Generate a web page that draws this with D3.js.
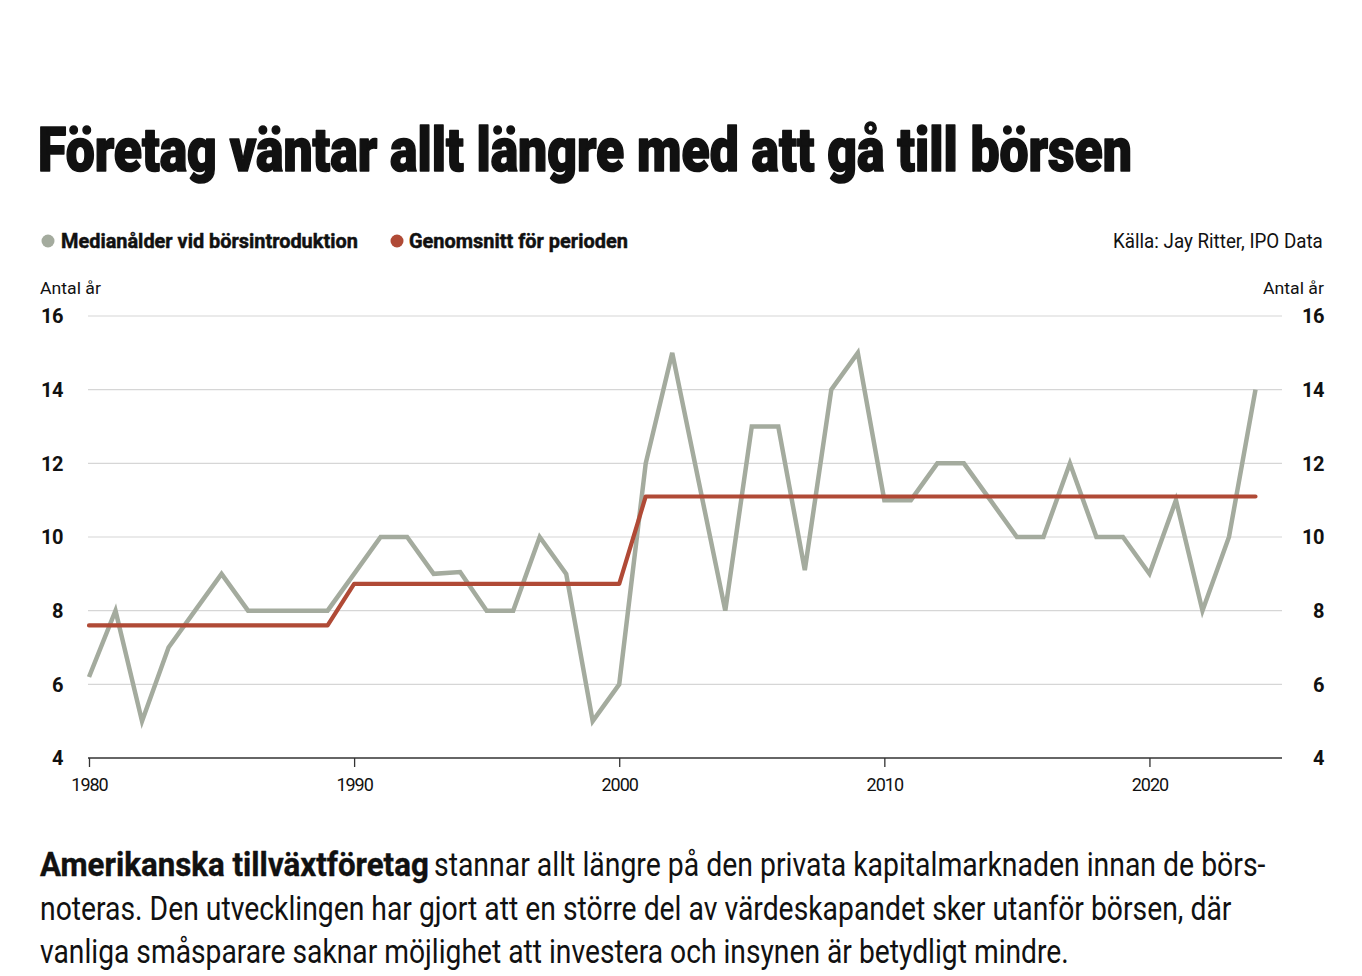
<!DOCTYPE html>
<html lang="sv">
<head>
<meta charset="utf-8">
<script src="https://cdn.jsdelivr.net/npm/d3@7"></script>
<style>
  html, body { margin: 0; padding: 0; background: #fff; }
  svg { display: block; }
  text { font-family: "Liberation Sans Narrow", "Roboto", "Liberation Sans", sans-serif; fill: #111; }
</style>
</head>
<body>
<svg id="chart" width="1362" height="976"></svg>
<script>
// Data
const years = d3.range(1980, 2025);
const medianAge = [
  6.2, 8, 5, 7, 8, 9, 8, 8, 8, 8,
  9, 10, 10, 9, 9.05, 8, 8, 10, 9, 5,
  6, 12, 15, 11.5, 8, 13, 13, 9.1, 14, 15,
  11, 11, 12, 12, 11, 10, 10, 12, 10, 10,
  9, 11, 8, 10, 14
];
// period averages: 1980-89, 1990-2000, 2001-2024
const periods = [
  { from: 1980, to: 1989, avg: 7.6 },
  { from: 1990, to: 2000, avg: 8.73 },
  { from: 2001, to: 2024, avg: 11.1 }
];
const yTicks = [4, 6, 8, 10, 12, 14, 16];
const xTicks = [1980, 1990, 2000, 2010, 2020];

const titleText = 'Företag väntar allt längre med att gå till börsen';
const legendLabels = ['Medianålder vid börsintroduktion', 'Genomsnitt för perioden'];
const sourceText = 'Källa: Jay Ritter, IPO Data';
const unitText = 'Antal år';
const bodyLines = [
  { bold: 'Amerikanska tillväxtföretag', rest: 'stannar allt längre på den privata kapitalmarknaden innan de börs-' },
  { bold: '', rest: 'noteras. Den utvecklingen har gjort att en större del av värdeskapandet sker utanför börsen, där' },
  { bold: '', rest: 'vanliga småsparare saknar möjlighet att investera och insynen är betydligt mindre.' }
];

const grey = '#a4ab9e';
const red = '#b04a36';

const svg = d3.select('#chart');

const x = d3.scaleLinear().domain([1980, 2025]).range([89, 1282]);
const y = d3.scaleLinear().domain([4, 16]).range([758, 316]);

// squeeze a text horizontally so it spans the given width (condensed look)
function fitText(parent, tx, ty, width, str, size, weight, thicken) {
  const g = parent.append('g');
  const t = g.append('text')
    .attr('font-size', size)
    .attr('font-weight', weight || 400)
    .text(str);
  if (thicken) {
    t.attr('stroke', '#111').attr('stroke-width', thicken).attr('stroke-linejoin', 'round');
  }
  const natural = t.node().getComputedTextLength();
  g.attr('transform', `translate(${tx},${ty}) scale(${width / natural},1)`);
  return t;
}

// Title
fitText(svg, 38, 171, 1094, titleText, 61, 900, 1.6);

// Legend
const legendItems = [
  { label: legendLabels[0], color: grey, cx: 48, tx: 61, w: 297 },
  { label: legendLabels[1], color: red, cx: 397, tx: 409, w: 219 }
];
legendItems.forEach(d => {
  svg.append('circle').attr('cx', d.cx).attr('cy', 241).attr('r', 6.5).attr('fill', d.color);
  fitText(svg, d.tx, 248, d.w, d.label, 21, 700, 0.5);
});

fitText(svg, 1113, 248, 210, sourceText, 21, 400);

// Unit labels
fitText(svg, 40, 294, 61, unitText, 16.5, 400);
fitText(svg, 1263, 294, 61, unitText, 16.5, 400);

// Gridlines
svg.append('g')
  .selectAll('line')
  .data(yTicks.filter(t => t > 4))
  .join('line')
  .attr('x1', 88).attr('x2', 1282)
  .attr('y1', d => y(d)).attr('y2', d => y(d))
  .attr('stroke', '#d6d6d6').attr('stroke-width', 1.2);

// Y tick labels left and right
const yLabelStyle = sel => sel
  .attr('font-size', 20).attr('font-weight', 700)
  .attr('font-family', '"Liberation Sans", Roboto, sans-serif')
  .attr('letter-spacing', -0.5)
  .attr('dy', '0.36em');
svg.append('g').selectAll('text').data(yTicks).join('text')
  .attr('x', 63).attr('y', d => y(d)).attr('text-anchor', 'end')
  .call(yLabelStyle).text(d => d);
svg.append('g').selectAll('text').data(yTicks).join('text')
  .attr('x', 1324).attr('y', d => y(d)).attr('text-anchor', 'end')
  .call(yLabelStyle).text(d => d);

// X axis
const xAxis = svg.append('g')
  .attr('transform', `translate(0,${y(4)})`)
  .call(d3.axisBottom(x).tickValues(xTicks).tickFormat(d3.format('d')).tickSize(9).tickSizeOuter(0));
xAxis.select('.domain').attr('stroke', '#333').attr('stroke-width', 1.5)
  .attr('d', `M88,0H1282`);
xAxis.selectAll('.tick line').attr('stroke', '#333').attr('stroke-width', 1.3);
xAxis.selectAll('.tick text')
  .attr('y', 20).attr('dy', '0.71em')
  .attr('font-size', 18)
  .attr('font-family', '"Liberation Sans", Roboto, sans-serif')
  .attr('letter-spacing', -1)
  .attr('fill', '#222');

// Lines
const line = d3.line().x(d => x(d[0])).y(d => y(d[1]));
const medianData = years.map((yr, i) => [yr, medianAge[i]]);
const avgData = years.map(yr => [yr, periods.find(p => yr >= p.from && yr <= p.to).avg]);

svg.append('path')
  .datum(medianData)
  .attr('d', line)
  .attr('fill', 'none')
  .attr('stroke', grey)
  .attr('stroke-width', 4.5)
  .attr('stroke-linejoin', 'miter');

svg.append('path')
  .datum(avgData)
  .attr('d', line)
  .attr('fill', 'none')
  .attr('stroke', red)
  .attr('stroke-width', 4.2)
  .attr('stroke-linejoin', 'round')
  .attr('stroke-linecap', 'round');

// Body text
const bodyWidths = [
  { boldW: 389, restX: 434, restW: 832 },
  { boldW: 0, restX: 40, restW: 1192 },
  { boldW: 0, restX: 40, restW: 1029 }
];
bodyLines.forEach((ln, i) => {
  const by = 876 + i * 43.5;
  const w = bodyWidths[i];
  if (ln.bold) fitText(svg, 40, by, w.boldW, ln.bold, 33, 700, 0.4);
  fitText(svg, w.restX, by, w.restW, ln.rest, 33, 400);
});
</script>
</body>
</html>
